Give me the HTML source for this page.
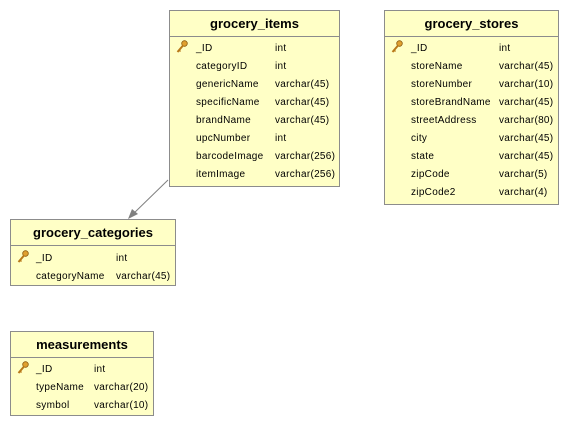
<!DOCTYPE html>
<html><head><style>
body{margin:0;width:568px;height:426px;background:#fff;position:relative;font-family:"Liberation Sans",Arial,sans-serif;overflow:hidden}
.t{position:absolute;background:#ffffc6;border:1px solid #8c8c8c;box-sizing:border-box}
.h{height:25px;border-bottom:1px solid #8c8c8c;text-align:center;font-weight:bold;font-size:13px;line-height:26px;color:#000}
.r{position:absolute;font-size:10px;color:#000;white-space:nowrap;line-height:12px;letter-spacing:0.3px}
.k{position:absolute;left:6px;width:12px;height:14px}
</style></head><body>
<svg width="568" height="426" style="position:absolute;left:0;top:0">
<line x1="168" y1="180" x2="131" y2="216" stroke="#808080" stroke-width="1"/>
<polygon points="128,219 132,209 138,214" fill="#808080"/>
</svg>

<div class="t" style="left:169px;top:10px;width:171px;height:177px">
<div class="h">grocery_items</div>
</div>
<div class="t" style="left:384px;top:10px;width:175px;height:195px">
<div class="h">grocery_stores</div>
</div>
<div class="t" style="left:10px;top:219px;width:166px;height:67px">
<div class="h">grocery_categories</div>
</div>
<div class="t" style="left:10px;top:331px;width:144px;height:85px">
<div class="h">measurements</div>
</div>

<div id="rows"></div>
<script>
var keySvg='<svg width="12" height="14" viewBox="0 0 12 14"><circle cx="8.5" cy="3.5" r="2.8" fill="#e0a030" stroke="#8a5a10" stroke-width="0.8"/><line x1="7" y1="5.5" x2="1.5" y2="12" stroke="#b87818" stroke-width="2"/><line x1="3" y1="10" x2="4.5" y2="11.5" stroke="#b87818" stroke-width="1.3"/></svg>';
var T=[
[169,196,275,48,[["_ID","int"],["categoryID","int"],["genericName","varchar(45)"],["specificName","varchar(45)"],["brandName","varchar(45)"],["upcNumber","int"],["barcodeImage","varchar(256)"],["itemImage","varchar(256)"]]],
[384,411,499,48,[["_ID","int"],["storeName","varchar(45)"],["storeNumber","varchar(10)"],["storeBrandName","varchar(45)"],["streetAddress","varchar(80)"],["city","varchar(45)"],["state","varchar(45)"],["zipCode","varchar(5)"],["zipCode2","varchar(4)"]]],
[10,36,116,258,[["_ID","int"],["categoryName","varchar(45)"]]],
[10,36,94,369,[["_ID","int"],["typeName","varchar(20)"],["symbol","varchar(10)"]]]
];
var h='';
T.forEach(function(t){
 t[4].forEach(function(r,i){
  var y=t[3]+i*18;
  h+='<div class="r" style="left:'+t[1]+'px;top:'+(y-5)+'px">'+r[0]+'</div>';
  h+='<div class="r" style="left:'+t[2]+'px;top:'+(y-5)+'px">'+r[1]+'</div>';
 });
 h+='<div class="k" style="left:'+(t[0]+7)+'px;top:'+(t[3]-8)+'px">'+keySvg+'</div>';
});
document.getElementById('rows').innerHTML=h;
</script>
</body></html>
